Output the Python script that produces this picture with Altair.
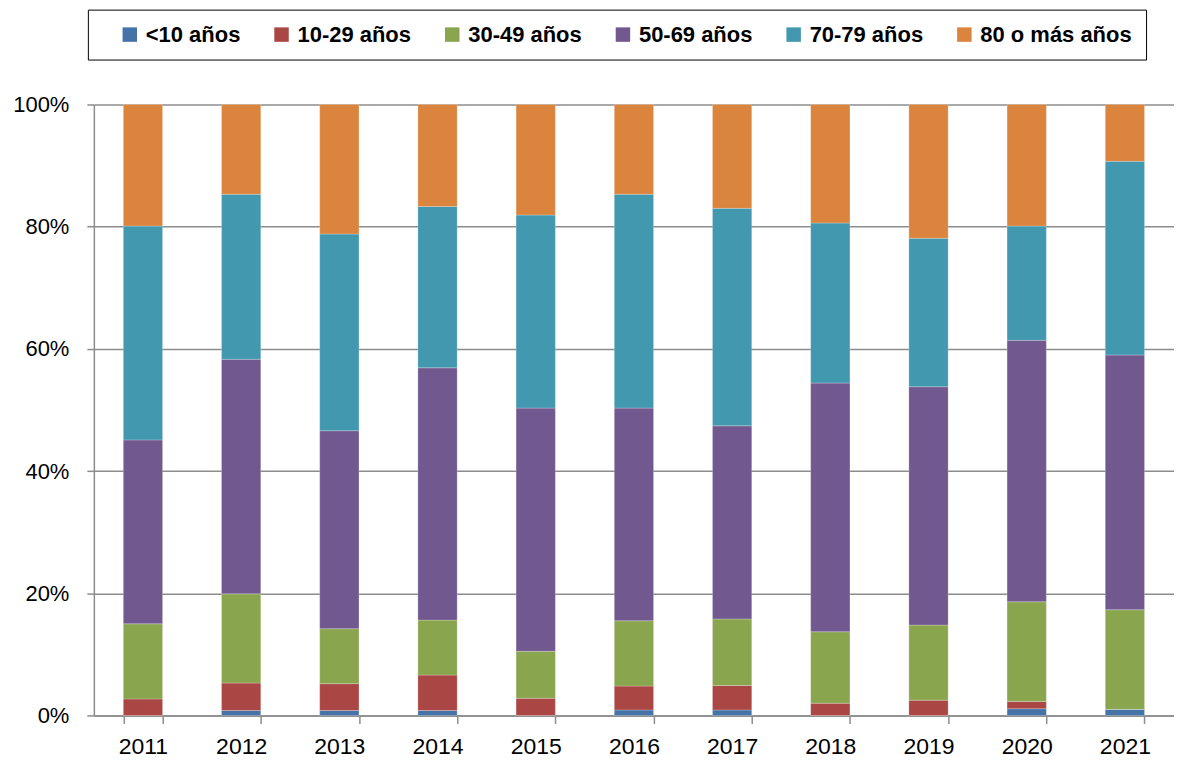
import altair as alt
import pandas as pd

years = ["2011", "2012", "2013", "2014", "2015", "2016", "2017", "2018", "2019", "2020", "2021"]
groups = ["<10 años", "10-29 años", "30-49 años", "50-69 años", "70-79 años", "80 o más años"]
colors = ["#4572A7", "#AA4643", "#89A54E", "#71588F", "#4198AF", "#DB843D"]

lt10 = [0.0, 0.8, 0.8, 0.8, 0.0, 0.9, 0.9, 0.0, 0.0, 1.1, 1.0]
g10_29 = [2.7, 4.5, 4.4, 5.8, 2.8, 3.9, 4.0, 2.0, 2.5, 1.2, 0.0]
g30_49 = [12.3, 14.6, 9.0, 9.0, 7.7, 10.7, 10.9, 11.7, 12.3, 16.3, 16.3]
g50_69 = [30.1, 38.4, 32.4, 41.3, 39.8, 34.8, 31.6, 40.7, 39.0, 42.8, 41.7]
g70_79 = [35.0, 27.0, 32.2, 26.4, 31.6, 35.0, 35.6, 26.2, 24.3, 18.7, 31.7]
g80 = [19.9, 14.7, 21.2, 16.7, 18.1, 14.7, 17.0, 19.4, 21.9, 19.9, 9.3]

series = [lt10, g10_29, g30_49, g50_69, g70_79, g80]
rows = []
for gi, (g, vals) in enumerate(zip(groups, series)):
    for y, v in zip(years, vals):
        rows.append({"year": y, "group": g, "order": gi, "value": v})
df = pd.DataFrame(rows)

font = "Liberation Sans"

chart = alt.Chart(df).mark_bar(stroke="#ffffff", strokeWidth=0.4, strokeOpacity=0.6).encode(
    x=alt.X("year:N", sort=years, title=None,
            scale=alt.Scale(paddingInner=0.6, paddingOuter=0.3),
            axis=alt.Axis(labelAngle=0, labelFontSize=23, labelFont=font, labelColor="#000000",
                          labelPadding=12, tickBand="extent", tickSize=8, tickColor="#8c8c8c",
                          tickWidth=1.5, domainColor="#8c8c8c", domainWidth=1.5, grid=False)),
    y=alt.Y("value:Q", stack="normalize", title=None,
            scale=alt.Scale(domain=[0, 1]),
            axis=alt.Axis(format=".0%", values=[0, 0.2, 0.4, 0.6, 0.8, 1.0], labelFontSize=22,
                          labelFont=font, labelColor="#000000", tickSize=7, tickColor="#8c8c8c",
                          tickWidth=1.5, domainColor="#8c8c8c", domainWidth=1.5,
                          gridColor="#8c8c8c", gridWidth=1.5, labelPadding=18)),
    color=alt.Color("group:N", sort=groups,
                    scale=alt.Scale(domain=groups, range=colors),
                    legend=alt.Legend(title=None, orient="none", direction="horizontal",
                                      legendX=-6, legendY=-95,
                                      labelFont=font, labelFontSize=22, labelFontWeight="bold",
                                      labelColor="#000000", symbolType="square", symbolSize=210,
                                      symbolStrokeWidth=0, symbolOffset=17, columnPadding=13,
                                      labelOffset=5, strokeColor="#000000", padding=14,
                                      cornerRadius=0)),
    order=alt.Order("order:Q", sort="ascending"),
).properties(width=1082, height=612, padding={"left": 4, "top": 0, "right": 0, "bottom": 0}
).configure_view(stroke=None)

chart.save("out.html", embed_options={"renderer": "svg", "actions": False})
